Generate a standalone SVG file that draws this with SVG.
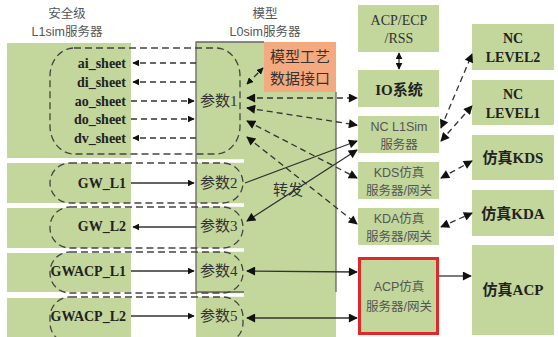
<svg xmlns="http://www.w3.org/2000/svg" width="558" height="337" viewBox="0 0 558 337">
<style>
.g{fill:#C3D69B}
.bt{font-family:"Liberation Serif","Noto Sans CJK SC",serif;font-weight:bold;font-size:14px;fill:#222}
.st{font-family:"Liberation Serif","Noto Sans CJK SC",serif;font-size:15px;fill:#333}
.ss{font-family:"Liberation Sans","Noto Sans CJK SC",sans-serif;font-size:12.5px;fill:#555}
.sr{font-family:"Liberation Serif","Noto Sans CJK SC",serif;font-size:14px;fill:#333}
.d{fill:none;stroke:#333;stroke-width:1.3;stroke-dasharray:6 4}
.s{fill:none;stroke:#333;stroke-width:1.3}
.grp{fill:none;stroke:#444;stroke-width:1.3;stroke-dasharray:7 4}
.wl{stroke:#fff;stroke-width:3.5}
</style>
<defs>
<marker id="a" viewBox="0 0 10 10" refX="9" refY="5" markerWidth="7" markerHeight="7" markerUnits="userSpaceOnUse" orient="auto-start-reverse">
<path d="M0,0 L10,5 L0,10 z" fill="#111"/>
</marker>
<marker id="b" viewBox="0 0 10 10" refX="9" refY="5" markerWidth="10" markerHeight="9" markerUnits="userSpaceOnUse" orient="auto-start-reverse">
<path d="M0,0 L10,5 L0,10 z" fill="#111"/>
</marker>
</defs>
<rect width="558" height="337" fill="#fff"/>

<g id="header-l1">
<text class="ss" x="67" y="18" text-anchor="middle">安全级</text>
<text class="ss" x="67" y="36" text-anchor="middle">L1sim服务器</text>
</g>
<g id="header-l0">
<text class="ss" x="265" y="18" text-anchor="middle">模型</text>
<text class="ss" x="265" y="36" text-anchor="middle">L0sim服务器</text>
</g>

<g id="l1sim-panel">
<rect class="g" x="7" y="43" width="124" height="115"/>
<rect class="g" x="7" y="163" width="124" height="40"/>
<rect class="g" x="7" y="208" width="124" height="40"/>
<rect class="g" x="7" y="253" width="124" height="39"/>
<rect class="g" x="7" y="298" width="124" height="39"/>
</g>

<g id="l0sim-panel">
<rect class="g" x="196" y="42" width="140" height="295"/>
<line class="wl" x1="197" y1="161" x2="244" y2="161"/>
<line class="wl" x1="197" y1="205" x2="244" y2="205"/>
<line class="wl" x1="197" y1="250" x2="244" y2="250"/>
<line class="wl" x1="197" y1="295" x2="244" y2="295"/>
<path d="M196,292 V42 H264 M336,92 V292 M196,292 H244" fill="none" stroke="#666" stroke-width="1.3"/>
</g>

<g id="model-interface">
<rect x="264" y="42" width="72" height="50" fill="#F4A97F"/>
<text class="st" x="300" y="62" text-anchor="middle">模型工艺</text>
<text class="st" x="300" y="84" text-anchor="middle">数据接口</text>
</g>

<g id="group1">
<rect class="grp" x="50" y="48" width="190" height="106" rx="24" ry="28"/>
<text class="bt" x="126" y="68" text-anchor="end">ai_sheet</text>
<text class="bt" x="126" y="87" text-anchor="end">di_sheet</text>
<text class="bt" x="126" y="106" text-anchor="end">ao_sheet</text>
<text class="bt" x="126" y="124" text-anchor="end">do_sheet</text>
<text class="bt" x="126" y="143" text-anchor="end">dv_sheet</text>
<text class="st" x="200" y="106">参数1</text>
</g>
<g id="group2">
<rect class="grp" x="50" y="163" width="193" height="40" rx="20"/>
<text class="bt" x="126" y="188" text-anchor="end">GW_L1</text>
<text class="st" x="200" y="188">参数2</text>
</g>
<g id="group3">
<rect class="grp" x="50" y="207" width="193" height="41" rx="20"/>
<text class="bt" x="126" y="231" text-anchor="end">GW_L2</text>
<text class="st" x="200" y="231">参数3</text>
</g>
<g id="group4">
<rect class="grp" x="50" y="252" width="193" height="41" rx="20"/>
<text class="bt" x="126" y="276" text-anchor="end">GWACP_L1</text>
<text class="st" x="200" y="276">参数4</text>
</g>
<g id="group5">
<rect class="grp" x="50" y="297" width="193" height="46" rx="20"/>
<text class="bt" x="126" y="321" text-anchor="end">GWACP_L2</text>
<text class="st" x="200" y="321">参数5</text>
</g>

<g id="acp-ecp-rss">
<rect class="g" x="358" y="5" width="81" height="47"/>
<text class="sr" x="399" y="25" text-anchor="middle">ACP/ECP</text>
<text class="sr" x="399" y="43" text-anchor="middle">/RSS</text>
</g>
<g id="io">
<rect class="g" x="358" y="70" width="81" height="37"/>
<text class="bt" x="399" y="95" text-anchor="middle" style="font-size:15px">IO系统</text>
</g>
<g id="nc-l1sim">
<rect class="g" x="358" y="116" width="81" height="37"/>
<text class="ss" x="399" y="131" text-anchor="middle">NC L1Sim</text>
<text class="ss" x="399" y="149" text-anchor="middle">服务器</text>
</g>
<g id="kds-gw">
<rect class="g" x="358" y="162" width="81" height="37"/>
<text class="ss" x="399" y="177" text-anchor="middle">KDS仿真</text>
<text class="ss" x="399" y="195" text-anchor="middle">服务器/网关</text>
</g>
<g id="kda-gw">
<rect class="g" x="358" y="208" width="81" height="37"/>
<text class="ss" x="399" y="223" text-anchor="middle">KDA仿真</text>
<text class="ss" x="399" y="241" text-anchor="middle">服务器/网关</text>
</g>
<g id="acp-gw">
<rect class="g" x="359.5" y="258.5" width="78" height="75" stroke="#E0282A" stroke-width="3"/>
<text class="ss" x="399" y="291" text-anchor="middle">ACP仿真</text>
<text class="ss" x="399" y="311" text-anchor="middle">服务器/网关</text>
</g>

<g id="nc-level2">
<rect class="g" x="472" y="24" width="82" height="46"/>
<text class="bt" x="513" y="43" text-anchor="middle">NC</text>
<text class="bt" x="513" y="62" text-anchor="middle">LEVEL2</text>
</g>
<g id="nc-level1">
<rect class="g" x="472" y="80" width="82" height="45"/>
<text class="bt" x="513" y="99" text-anchor="middle">NC</text>
<text class="bt" x="513" y="118" text-anchor="middle">LEVEL1</text>
</g>
<g id="sim-kds">
<rect class="g" x="472" y="135" width="82" height="45"/>
<text class="bt" x="513" y="163" text-anchor="middle" style="font-size:15px">仿真KDS</text>
</g>
<g id="sim-kda">
<rect class="g" x="472" y="190" width="82" height="46"/>
<text class="bt" x="513" y="219" text-anchor="middle" style="font-size:15px">仿真KDA</text>
</g>
<g id="sim-acp">
<rect class="g" x="472" y="245" width="82" height="90"/>
<text class="bt" x="513" y="295" text-anchor="middle" style="font-size:15px">仿真ACP</text>
</g>

<g id="connectors">
<line class="d" x1="196" y1="63" x2="133" y2="63" marker-end="url(#a)"/>
<line class="d" x1="196" y1="82" x2="133" y2="82" marker-end="url(#a)"/>
<line class="d" x1="131" y1="101" x2="194" y2="101" marker-end="url(#a)"/>
<line class="d" x1="131" y1="119" x2="194" y2="119" marker-end="url(#a)"/>
<line class="d" x1="196" y1="138" x2="133" y2="138" marker-end="url(#a)"/>
<line class="s" x1="131" y1="183" x2="194" y2="183" marker-end="url(#a)"/>
<line class="s" x1="196" y1="227" x2="133" y2="227" marker-end="url(#a)"/>
<line class="s" x1="131" y1="271" x2="194" y2="271" marker-end="url(#a)"/>
<line class="s" x1="131" y1="316" x2="194" y2="316" marker-end="url(#a)"/>

<line class="d" x1="247" y1="84" x2="263" y2="68" marker-start="url(#a)" marker-end="url(#a)"/>
<line class="d" x1="247" y1="98" x2="357" y2="98" marker-start="url(#b)" marker-end="url(#b)"/>
<line class="d" x1="247" y1="108" x2="357" y2="125" marker-start="url(#b)" marker-end="url(#b)"/>
<line class="d" x1="247" y1="121" x2="357" y2="178" marker-start="url(#b)" marker-end="url(#b)"/>
<line class="d" x1="247" y1="137" x2="357" y2="224" marker-start="url(#b)" marker-end="url(#b)"/>
<line class="s" x1="245" y1="183" x2="357" y2="141" marker-end="url(#b)"/>
<line class="s" x1="247" y1="221" x2="357" y2="150" marker-start="url(#b)" marker-end="url(#b)"/>
<line class="s" x1="247" y1="271" x2="357" y2="272" marker-start="url(#b)" marker-end="url(#b)"/>
<line class="s" x1="247" y1="318" x2="357" y2="318" marker-start="url(#b)" marker-end="url(#b)"/>

<line class="s" x1="399" y1="53" x2="399" y2="69" marker-start="url(#a)" marker-end="url(#a)"/>
<line class="s" x1="439" y1="276" x2="471" y2="276" marker-end="url(#b)"/>
<line class="d" x1="441" y1="128" x2="472" y2="54" marker-start="url(#b)" marker-end="url(#b)"/>
<line class="d" x1="441" y1="141" x2="472" y2="106" marker-start="url(#b)" marker-end="url(#b)"/>
<line class="d" x1="441" y1="178" x2="472" y2="161" marker-start="url(#b)" marker-end="url(#b)"/>
<line class="d" x1="441" y1="227" x2="472" y2="213" marker-start="url(#b)" marker-end="url(#b)"/>
<text class="st" x="288" y="195" text-anchor="middle">转发</text>
</g>
</svg>
